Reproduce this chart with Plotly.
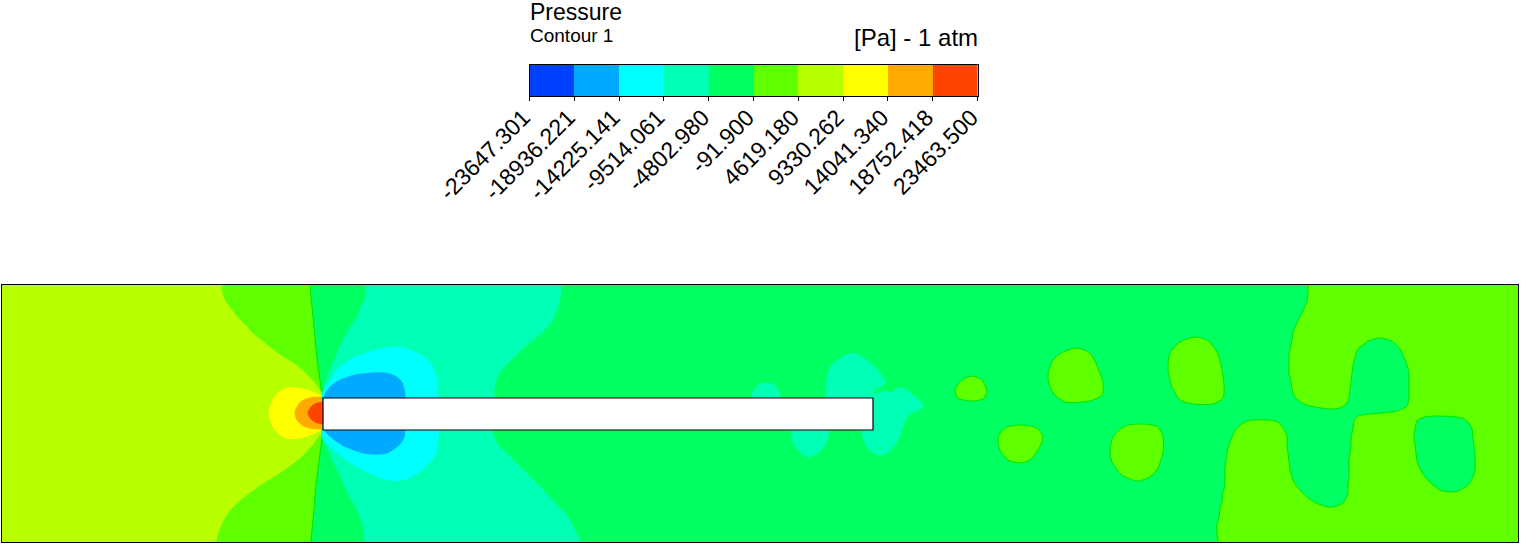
import plotly.graph_objects as go

# contour levels of the legend, Pa relative to 1 atm
LEVELS = [-23647.301, -18936.221, -14225.141, -9514.061, -4802.980, -91.900,
          4619.180, 9330.262, 14041.340, 18752.418, 23463.500]
TICK_LABELS = ['-23647.301', '-18936.221', '-14225.141', '-9514.061', '-4802.980', '-91.900',
               '4619.180', '9330.262', '14041.340', '18752.418', '23463.500']
BAND_COLORS = ['#0040ff', '#00aaff', '#00ffff', '#00ffb4', '#00ff60',
               '#60ff00', '#b8ff00', '#ffff00', '#ffaa00', '#ff4400']
ISOLINE_COLOR = '#00e400'  # the -91.9 isoline is a bit darker than its two bands

# plate in the channel
BODY_X = [323, 873]
BODY_Y = [398, 430]

# isolines, (x, y) in the channel axes
LEFT_5 = [(0,270),(309,270),(310,285),(313,317),(316,349),(319,373),(322,397),(323,413),(322,437),
          (319,461),(316,485),(314,509),(311,541),(310,555),(0,555)]
LEFT_6 = [(0,270),(220,270),(221,285),(222,293),(225,301),(231,309),(237,317),(245,325),(252,333),(262,341),
          (272,349),(283,357),(296,365),(305,373),(313,381),(319,389),(323,397),(323,429),(318,437),(312,445),
          (305,453),(296,461),(285,469),(273,477),(260,485),(249,493),(239,501),(231,509),(225,517),(221,525),
          (218,533),(216,541),(214,555),(0,555)]
YELLOW = [(323,398),(312,392),(300,388.5),(288,388),(278,393),(272,402),(269,413),(272,425),(278,433),
          (288,438.5),(300,438),(312,434),(323,428)]
ORANGE = [(323,398),(310,398),(302,401),(297,407),(295,413),(297,420),(302,425),(310,428),(323,428)]
RED = [(323,403),(316,403.5),(311,407),(308,413),(311,419),(316,422.5),(323,423)]
AQUA_TOP = [(366,270),(366,285),(366,293),(364,301),(360,309),(357,317),(352,325),(347,333),(343,341),(339,349),
            (336,357),(332,365),(329,373),(326,381),(323.5,389),(322,397),(323,402),(492,402),(494,389),(496,381),
            (499,373),(506,365),(514,357),(522,349),(532,341),(541,333),(549,325),(554,317),(557,309),(559,301),
            (561,293),(561,285),(561,270)]
AQUA_LOW = [(322,428),(323,437),(326,445),(330,453),(333,461),(337,469),(341,477),(344,485),(348,493),(352,501),
            (357,509),(360,517),(363,525),(364,533),(364,541),(364,555),(582,555),(580,541),(576,533),(572,525),
            (568,517),(561,509),(553,501),(546,493),(538,485),(530,477),(522,469),(514,461),(506,453),(498,445),
            (494,437),(492,429),(492,425)]
CYAN_TOP = [(323,402),(325,389),(330,381),(335,373),(342,365),(355,357),(380,349),(397,347),(407,349),(424,357),
            (432,365),(435,373),(437,381),(437,389),(437,402)]
CYAN_LOW = [(323,428),(322,437),(329,445),(338,453),(348,461),(361,469),(378,477),(397,481),(411,477),(423,469),
            (431,461),(436,453),(437,445),(438,437),(438,428)]
BLUE_TOP = [(323,402),(324,397),(328,389),(338,381),(355,375),(373,373),(385,373),(395,376),(401,381),(404,389),(404,402)]
BLUE_LOW = [(324,428),(325,431),(331,437),(342,445),(363,453),(377,454),(387,453),(399,445),(404,437),(404,428)]
WAKE_A = [(753,402),(753,392),(757,386),(765,383),(773,384.5),(778,389),(779,402)]
WAKE_B = [(828,402),(828,373),(832,365),(842,357),(853,353),(862,357),(873,365),(880,373),(885,381),(886,383),
          (876,389),(873,394),(873,402)]
WAKE_C = [(870,400),(877,393),(885,391),(892,393),(897,388),(905,389),(915,397),(922,403),(922,408),(917,411),
          (910,413),(905,421),(902,429),(899,437),(895,445),(889,452),(882,455),(875,454),(867,447),(863,437),
          (863,429),(870,425)]
WAKE_D = [(792,425),(792,437),(794,445),(801,453),(808,457),(818,453),(825,445),(828,437),(828,425)]
RIGHT_5 = [(1308,270),(1308,285),(1308,293),(1307,301),(1304,309),(1300,317),(1296,325),(1293,333),(1292,341),
           (1290,349),(1289,357),(1289,365),(1289,373),(1291,381),(1292,389),(1295,397),(1302,403),(1315,407),
           (1330,409),(1340,408),(1347,403),(1349,397),(1350,389),(1351,381),(1352,373),(1353,365),(1355,357),
           (1358,349),(1363,345),(1368,341),(1380,338),(1392,341),(1400,349),(1404,357),(1407,365),(1409,373),
           (1409,381),(1409,389),(1409,397),(1407,406),(1397,411),(1382,413),(1358,416),(1354,421),(1353,429),
           (1351,437),(1351,445),(1350,453),(1349,461),(1349,469),(1349,477),(1348,485),(1348,493),(1344,502),
           (1337,506),(1328,507),(1316,503),(1307,497),(1299,489),(1293,480),(1290,470),(1289,461),(1288,453),
           (1287,445),(1287,437),(1284,429),(1278,422),(1267,420),(1247,421),(1236,429),(1232,437),(1229,445),
           (1227,453),(1226,461),(1225,469),(1225,477),(1225,485),(1223,493),(1222,501),(1220,509),(1219,517),
           (1217,525),(1217,533),(1218,541),(1218,555),(1530,555),(1530,270)]
POCKET_J = [(1414,437),(1415,429),(1417,421),(1425,417),(1437,416),(1450,416.5),(1462,418),(1468,422),(1472,429),
            (1473,437),(1474,445),(1475,453),(1475,461),(1475,469),(1473,477),(1468,485),(1458,491),(1449,492),
            (1440,490),(1433,485),(1425,477),(1420,469),(1417,461),(1416,453),(1415,445)]
BLOB_E = [(955,390),(962,380),(972,376),(982,380),(987,392),(983,399),(970,401),(958,398)]
BLOB_F = [(998,441),(1000,433),(1007,427),(1020,425),(1037,428),(1043,437),(1038,450),(1030,460),(1020,463),
          (1008,460),(1000,450)]
BLOB_G = [(1048,375),(1053,360),(1063,352),(1077,348),(1090,353),(1098,368),(1103,383),(1102,395),(1090,401),
          (1065,402),(1055,395),(1050,387)]
BLOB_H = [(1168,368),(1170,353),(1180,342),(1195,337),(1207,340),(1217,352),(1222,370),(1224,385),(1223,398),
          (1213,404),(1193,404),(1180,400),(1172,387)]
BLOB_I = [(1110,452),(1113,437),(1125,426),(1143,424),(1158,427),(1163,437),(1163,452),(1157,470),(1148,478),
          (1137,481),(1122,475),(1112,462)]

# paint order, band index into BAND_COLORS, True when the edge is the -91.9 isoline
REGIONS = [
    (LEFT_5, 5, True), (LEFT_6, 6, False), (YELLOW, 7, False), (ORANGE, 8, False), (RED, 9, False),
    (AQUA_TOP, 3, False), (AQUA_LOW, 3, False), (CYAN_TOP, 2, False), (CYAN_LOW, 2, False),
    (BLUE_TOP, 1, False), (BLUE_LOW, 1, False),
    (WAKE_A, 3, False), (WAKE_B, 3, False), (WAKE_C, 3, False), (WAKE_D, 3, False),
    (RIGHT_5, 5, True), (POCKET_J, 4, True),
    (BLOB_E, 5, True), (BLOB_F, 5, True), (BLOB_G, 5, True), (BLOB_H, 5, True), (BLOB_I, 5, True),
]

W, H = 1522, 544

mids = [(LEVELS[k] + LEVELS[k + 1]) / 2 for k in range(len(BAND_COLORS))]

# stepped colorscale for the legend bar
colorscale = []
n = len(BAND_COLORS)
for k, c in enumerate(BAND_COLORS):
    colorscale.append([k / n, c])
    colorscale.append([(k + 1) / n, c])

fig = go.Figure()

for outline, band, isoline in REGIONS:
    xs = [p[0] for p in outline] + [outline[0][0]]
    ys = [p[1] for p in outline] + [outline[0][1]]
    edge = ISOLINE_COLOR if isoline else BAND_COLORS[band]
    fig.add_trace(go.Scatter(x=xs, y=ys, mode='lines', fill='toself', fillcolor=BAND_COLORS[band],
                             line=dict(color=edge, width=1, shape='spline', smoothing=0.7),
                             hoverinfo='skip', xaxis='x', yaxis='y'))

fig.add_trace(go.Heatmap(
    x=LEVELS, y=[0, 1], z=[mids], colorscale=colorscale,
    zmin=LEVELS[0], zmax=LEVELS[-1], showscale=False,
    xaxis='x2', yaxis='y2'))

fig.add_shape(type='rect', xref='x', yref='y', x0=BODY_X[0], x1=BODY_X[1], y0=BODY_Y[0], y1=BODY_Y[1],
              fillcolor='white', line=dict(color='black', width=1.2))

fig.update_layout(
    width=W, height=H, autosize=False,
    margin=dict(l=0, r=0, t=0, b=0),
    paper_bgcolor='white', plot_bgcolor=BAND_COLORS[4],
    showlegend=False,
    font=dict(family='Liberation Sans', color='black'),
    xaxis=dict(domain=[1.5 / W, 1518 / W], range=[1.5, 1518], showgrid=False, zeroline=False, automargin=False,
               showticklabels=False, ticks='', showline=True, mirror=True, linecolor='black', linewidth=1.2),
    yaxis=dict(domain=[2 / H, (H - 285) / H], range=[542, 285], showgrid=False, zeroline=False, automargin=False,
               showticklabels=False, ticks='', showline=True, mirror=True, linecolor='black', linewidth=1.2),
    xaxis2=dict(domain=[529.5 / W, 977.5 / W], range=[LEVELS[0], LEVELS[-1]], anchor='y2', automargin=False,
                tickmode='array', tickvals=LEVELS, ticktext=TICK_LABELS, tickangle=-45,
                tickfont=dict(size=23), ticks='outside', ticklen=4, tickcolor='black', tickwidth=1,
                ticklabelstandoff=-6, ticklabelshift=-6,
                showgrid=False, zeroline=False, showline=True, mirror=True, linecolor='black', linewidth=1),
    yaxis2=dict(domain=[(H - 96) / H, (H - 64.5) / H], range=[0, 1], anchor='x2', showgrid=False, automargin=False,
                zeroline=False, showticklabels=False, ticks='', showline=True, mirror=True,
                linecolor='black', linewidth=1),
)

fig.add_annotation(text='Pressure', xref='paper', yref='paper', x=528 / W, y=(H - 12) / H,
                   xanchor='left', yanchor='middle', showarrow=False, font=dict(size=23))
fig.add_annotation(text='Contour 1', xref='paper', yref='paper', x=528 / W, y=(H - 36) / H,
                   xanchor='left', yanchor='middle', showarrow=False, font=dict(size=19))
fig.add_annotation(text='[Pa] - 1 atm', xref='paper', yref='paper', x=980 / W, y=(H - 38) / H,
                   xanchor='right', yanchor='middle', showarrow=False, font=dict(size=24))

# the browser's default body margin would push the figure 8px down and right
fig.write_html("out.html", post_script="document.body.style.margin='0';",
               config={'displayModeBar': False})
